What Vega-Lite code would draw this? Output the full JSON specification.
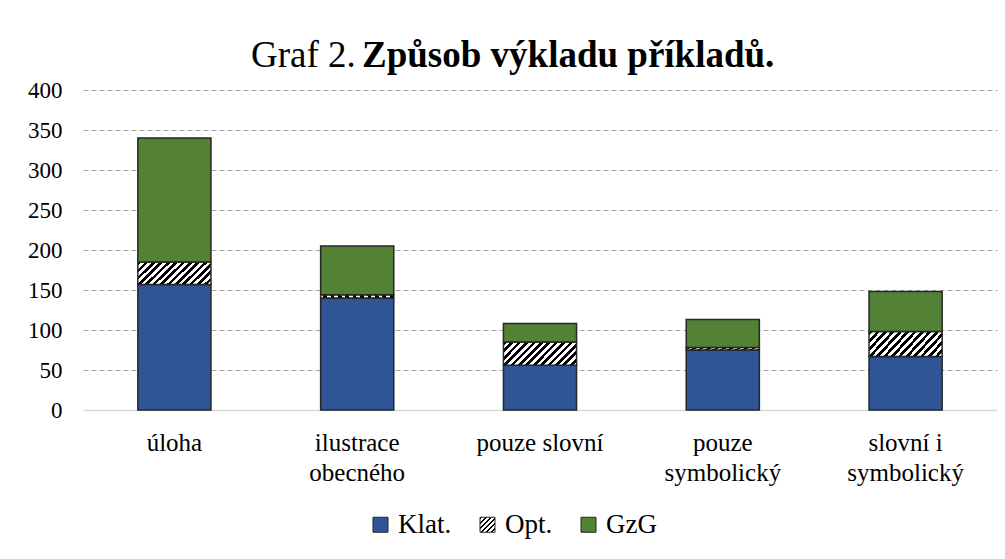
{
  "$schema": "https://vega.github.io/schema/vega-lite/v6.json",
  "autosize": {"type": "none"},
  "padding": {"left": 83, "top": 90, "right": 8, "bottom": 149},
  "width": 914,
  "height": 320,
  "background": "white",
  "title": {
    "text": "Graf 2.",
    "subtitle": "\u200b\u00a0\u00a0\u00a0\u00a0\u00a0\u00a0\u00a0\u00a0\u00a0\u00a0\u00a0\u00a0Způsob výkladu příkladů.",
    "anchor": "start",
    "frame": "group",
    "dx": 168,
    "offset": 4,
    "font": "Liberation Serif",
    "fontSize": 37,
    "fontWeight": "normal",
    "color": "black",
    "subtitleFont": "Liberation Serif",
    "subtitleFontSize": 37,
    "subtitleFontWeight": "bold",
    "subtitleColor": "black",
    "subtitlePadding": -37
  },
  "data": {
    "values": [
      {"kategorie": "úloha", "skupina": "Klat.", "pocet": 157},
      {"kategorie": "úloha", "skupina": "Opt.", "pocet": 28},
      {"kategorie": "úloha", "skupina": "GzG", "pocet": 155},
      {"kategorie": "ilustrace obecného", "skupina": "Klat.", "pocet": 140},
      {"kategorie": "ilustrace obecného", "skupina": "Opt.", "pocet": 4},
      {"kategorie": "ilustrace obecného", "skupina": "GzG", "pocet": 61},
      {"kategorie": "pouze slovní", "skupina": "Klat.", "pocet": 56},
      {"kategorie": "pouze slovní", "skupina": "Opt.", "pocet": 29},
      {"kategorie": "pouze slovní", "skupina": "GzG", "pocet": 23},
      {"kategorie": "pouze symbolický", "skupina": "Klat.", "pocet": 75},
      {"kategorie": "pouze symbolický", "skupina": "Opt.", "pocet": 3},
      {"kategorie": "pouze symbolický", "skupina": "GzG", "pocet": 35},
      {"kategorie": "slovní i symbolický", "skupina": "Klat.", "pocet": 67},
      {"kategorie": "slovní i symbolický", "skupina": "Opt.", "pocet": 31},
      {"kategorie": "slovní i symbolický", "skupina": "GzG", "pocet": 50}
    ]
  },
  "transform": [
    {"calculate": "indexof(['Klat.', 'Opt.', 'GzG'], datum.skupina)", "as": "poradi"}
  ],
  "mark": {"type": "bar", "stroke": "#262626", "strokeWidth": 1.5},
  "encoding": {
    "x": {
      "field": "kategorie",
      "type": "nominal",
      "sort": ["úloha", "ilustrace obecného", "pouze slovní", "pouze symbolický", "slovní i symbolický"],
      "scale": {"paddingInner": 0.6, "paddingOuter": 0.3},
      "axis": {
        "title": null,
        "labelAngle": 0,
        "labelFont": "Liberation Serif",
        "labelFontSize": 25,
        "labelColor": "black",
        "labelPadding": 20,
        "labelLineHeight": 30,
        "ticks": false,
        "domainColor": "#d9d9d9",
        "domainWidth": 1.5,
        "labelExpr": "datum.label === 'ilustrace obecného' ? ['ilustrace', 'obecného'] : datum.label === 'pouze symbolický' ? ['pouze', 'symbolický'] : datum.label === 'slovní i symbolický' ? ['slovní i', 'symbolický'] : datum.label"
      }
    },
    "y": {
      "field": "pocet",
      "type": "quantitative",
      "stack": "zero",
      "scale": {"domain": [0, 400], "nice": false},
      "axis": {
        "title": null,
        "values": [0, 50, 100, 150, 200, 250, 300, 350, 400],
        "labelFont": "Liberation Serif",
        "labelFontSize": 23,
        "labelColor": "black",
        "labelPadding": 21,
        "ticks": false,
        "domain": false,
        "gridColor": "#a6a6a6",
        "gridDash": [5, 3],
        "gridWidth": 1,
        "gridOpacity": {"condition": {"test": "datum.value === 0", "value": 0}, "value": 1}
      }
    },
    "order": {"field": "poradi", "type": "quantitative"},
    "fill": {
      "condition": {
        "test": "datum.skupina === 'Opt.'",
        "value": {
          "gradient": "linear",
          "x1": 0, "y1": 0, "x2": 1.196, "y2": 0.377,
          "stops": [
            {"offset": 0, "color": "black"}, {"offset": 0.0385, "color": "black"},
            {"offset": 0.0385, "color": "white"}, {"offset": 0.0769, "color": "white"},
            {"offset": 0.0769, "color": "black"}, {"offset": 0.1154, "color": "black"},
            {"offset": 0.1154, "color": "white"}, {"offset": 0.1538, "color": "white"},
            {"offset": 0.1538, "color": "black"}, {"offset": 0.1923, "color": "black"},
            {"offset": 0.1923, "color": "white"}, {"offset": 0.2308, "color": "white"},
            {"offset": 0.2308, "color": "black"}, {"offset": 0.2692, "color": "black"},
            {"offset": 0.2692, "color": "white"}, {"offset": 0.3077, "color": "white"},
            {"offset": 0.3077, "color": "black"}, {"offset": 0.3462, "color": "black"},
            {"offset": 0.3462, "color": "white"}, {"offset": 0.3846, "color": "white"},
            {"offset": 0.3846, "color": "black"}, {"offset": 0.4231, "color": "black"},
            {"offset": 0.4231, "color": "white"}, {"offset": 0.4615, "color": "white"},
            {"offset": 0.4615, "color": "black"}, {"offset": 0.5, "color": "black"},
            {"offset": 0.5, "color": "white"}, {"offset": 0.5385, "color": "white"},
            {"offset": 0.5385, "color": "black"}, {"offset": 0.5769, "color": "black"},
            {"offset": 0.5769, "color": "white"}, {"offset": 0.6154, "color": "white"},
            {"offset": 0.6154, "color": "black"}, {"offset": 0.6538, "color": "black"},
            {"offset": 0.6538, "color": "white"}, {"offset": 0.6923, "color": "white"},
            {"offset": 0.6923, "color": "black"}, {"offset": 0.7308, "color": "black"},
            {"offset": 0.7308, "color": "white"}, {"offset": 0.7692, "color": "white"},
            {"offset": 0.7692, "color": "black"}, {"offset": 0.8077, "color": "black"},
            {"offset": 0.8077, "color": "white"}, {"offset": 0.8462, "color": "white"},
            {"offset": 0.8462, "color": "black"}, {"offset": 0.8846, "color": "black"},
            {"offset": 0.8846, "color": "white"}, {"offset": 0.9231, "color": "white"},
            {"offset": 0.9231, "color": "black"}, {"offset": 0.9615, "color": "black"},
            {"offset": 0.9615, "color": "white"}, {"offset": 1, "color": "white"}
          ]
        }
      },
      "field": "skupina",
      "type": "nominal",
      "sort": ["Klat.", "Opt.", "GzG"],
      "scale": {
        "domain": ["Klat.", "Opt.", "GzG"],
        "range": [
          "#2f5597",
          {"expr": "{gradient: 'linear', x1: 0, y1: 0, x2: 1, y2: 1, stops: [{offset: 0, color: 'black'}, {offset: 0.0833, color: 'black'}, {offset: 0.0833, color: 'white'}, {offset: 0.1667, color: 'white'}, {offset: 0.1667, color: 'black'}, {offset: 0.25, color: 'black'}, {offset: 0.25, color: 'white'}, {offset: 0.3333, color: 'white'}, {offset: 0.3333, color: 'black'}, {offset: 0.4167, color: 'black'}, {offset: 0.4167, color: 'white'}, {offset: 0.5, color: 'white'}, {offset: 0.5, color: 'black'}, {offset: 0.5833, color: 'black'}, {offset: 0.5833, color: 'white'}, {offset: 0.6667, color: 'white'}, {offset: 0.6667, color: 'black'}, {offset: 0.75, color: 'black'}, {offset: 0.75, color: 'white'}, {offset: 0.8333, color: 'white'}, {offset: 0.8333, color: 'black'}, {offset: 0.9167, color: 'black'}, {offset: 0.9167, color: 'white'}, {offset: 1, color: 'white'}]}"},
          "#548235"
        ]
      },
      "legend": {
        "title": null,
        "orient": "none",
        "legendX": 284,
        "legendY": 421,
        "padding": 0,
        "direction": "horizontal",
        "labelFont": "Liberation Serif",
        "labelFontSize": 27,
        "labelColor": "black",
        "labelOffset": 4,
        "columnPadding": 22,
        "symbolType": "square",
        "symbolSize": 225,
        "symbolStrokeColor": "#262626",
        "symbolStrokeWidth": 1
      }
    }
  },
  "config": {
    "view": {"stroke": null},
    "font": "Liberation Serif"
  }
}
